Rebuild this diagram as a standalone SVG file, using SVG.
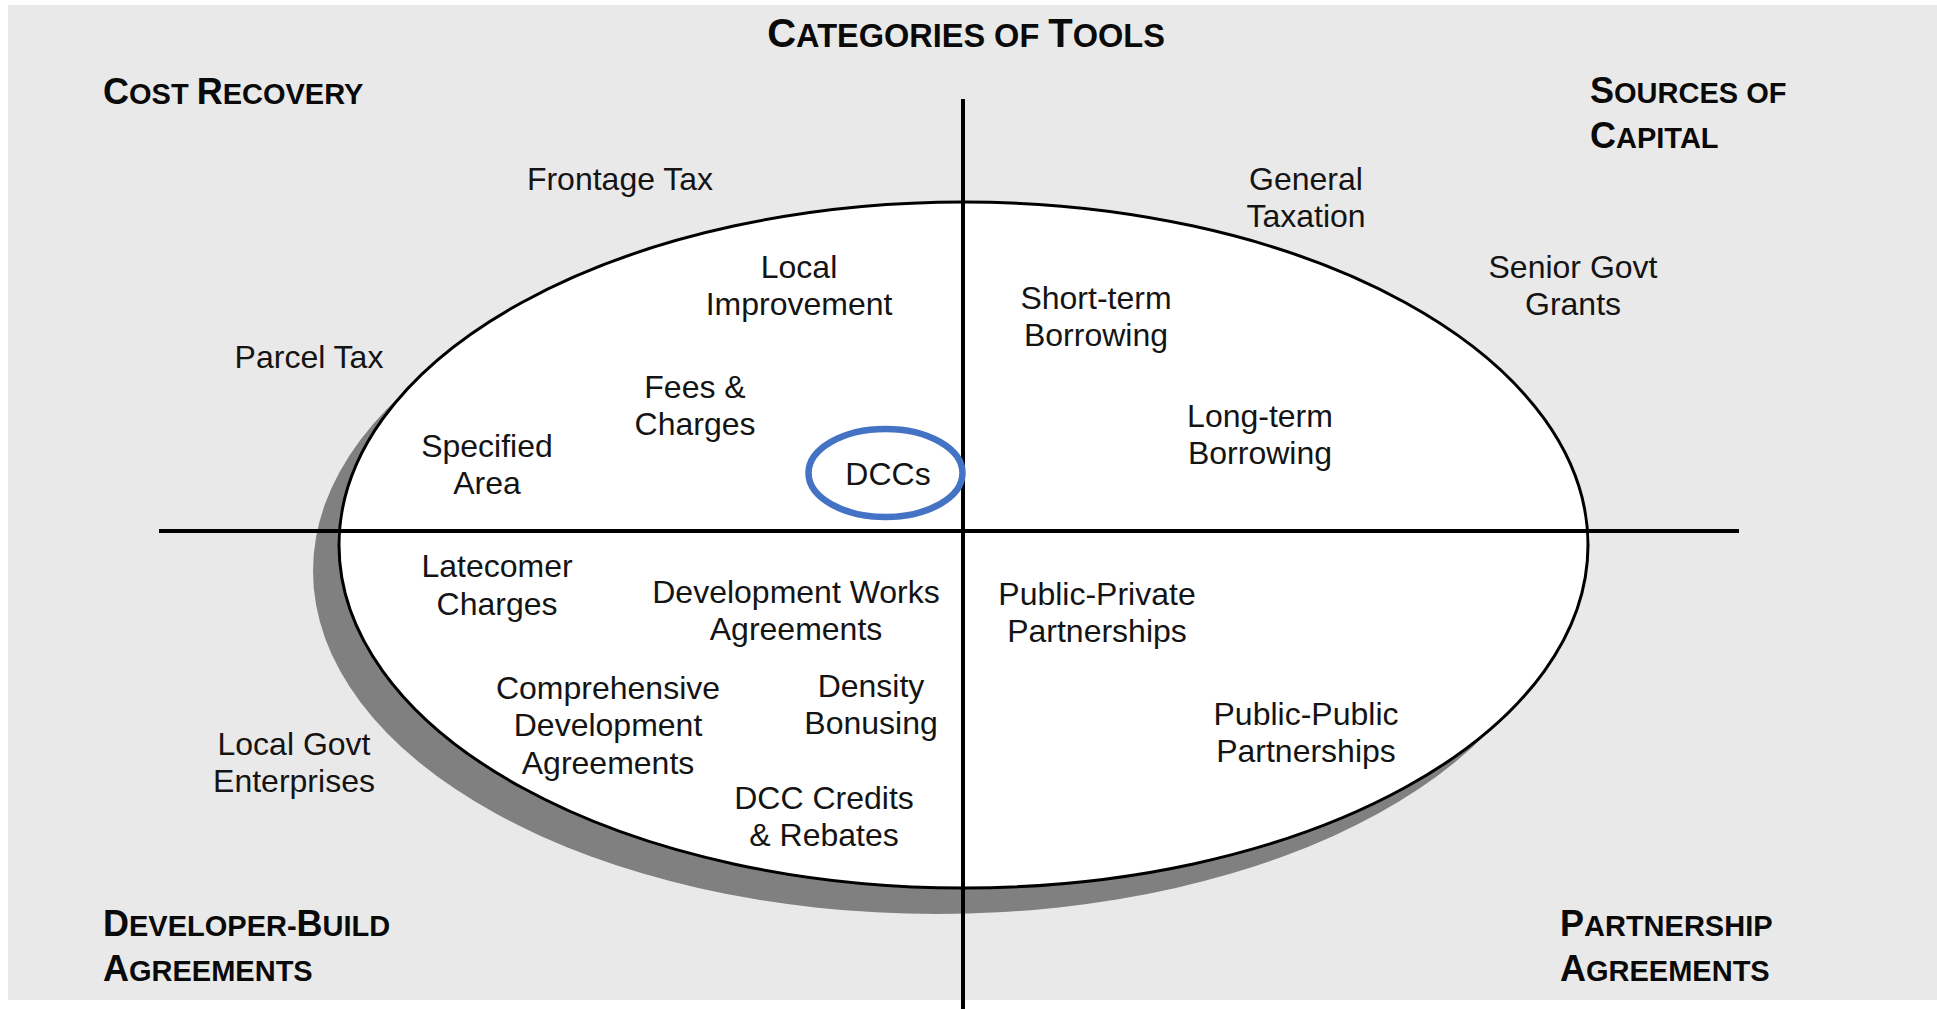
<svg xmlns="http://www.w3.org/2000/svg" width="1937" height="1009" viewBox="0 0 1937 1009">
<style>
.t{font-family:"Liberation Sans",Arial,sans-serif;font-size:32px;fill:#141414;text-anchor:middle}
.h{font-family:"Liberation Sans",Arial,sans-serif;font-weight:bold;fill:#0a0a0a}
.b{font-size:36px}
.s{font-size:29px}
.tb{font-size:40px}
.ts{font-size:32.5px}
.ln{stroke:#000;stroke-width:4;fill:none}
</style>
<rect x="0" y="0" width="1937" height="1009" fill="#ffffff"/>
<rect x="8" y="5" width="1929" height="995" fill="#e9e9e9"/>
<g id="ellipse">
<ellipse cx="937" cy="571" rx="624" ry="343" fill="#808080"/>
<ellipse cx="963.5" cy="545" rx="624.5" ry="343" fill="#ffffff" stroke="#000" stroke-width="3"/>
</g>
<g id="connectors">
<line class="ln" x1="159" y1="531" x2="1739" y2="531"/>
<line class="ln" x1="963" y1="99" x2="963" y2="1009"/>
</g>
<g id="title"><text class="h" x="966" y="47" text-anchor="middle"><tspan class="tb">C</tspan><tspan class="ts">ATEGORIES OF </tspan><tspan class="tb">T</tspan><tspan class="ts">OOLS</tspan></text></g>
<g id="cost-recovery"><text class="h" x="103" y="104"><tspan class="b">C</tspan><tspan class="s">OST </tspan><tspan class="b">R</tspan><tspan class="s">ECOVERY</tspan></text></g>
<g id="sources-of-capital"><text class="h" x="1590" y="103"><tspan class="b">S</tspan><tspan class="s">OURCES OF</tspan></text><text class="h" x="1590" y="148"><tspan class="b">C</tspan><tspan class="s">APITAL</tspan></text></g>
<g id="developer-build"><text class="h" x="103" y="936"><tspan class="b">D</tspan><tspan class="s">EVELOPER-</tspan><tspan class="b">B</tspan><tspan class="s">UILD</tspan></text><text class="h" x="103" y="981"><tspan class="b">A</tspan><tspan class="s">GREEMENTS</tspan></text></g>
<g id="partnership-agreements"><text class="h" x="1560" y="936"><tspan class="b">P</tspan><tspan class="s">ARTNERSHIP</tspan></text><text class="h" x="1560" y="981"><tspan class="b">A</tspan><tspan class="s">GREEMENTS</tspan></text></g>
<g id="frontage-tax"><text class="t" x="620" y="190">Frontage Tax</text></g>
<g id="general-taxation"><text class="t" x="1306" y="190">General</text><text class="t" x="1306" y="227">Taxation</text></g>
<g id="senior-govt-grants"><text class="t" x="1573" y="278">Senior Govt</text><text class="t" x="1573" y="315">Grants</text></g>
<g id="local-improvement"><text class="t" x="799" y="278">Local</text><text class="t" x="799" y="315">Improvement</text></g>
<g id="short-term-borrowing"><text class="t" x="1096" y="309">Short-term</text><text class="t" x="1096" y="346">Borrowing</text></g>
<g id="parcel-tax"><text class="t" x="309" y="368">Parcel Tax</text></g>
<g id="fees-charges"><text class="t" x="695" y="398">Fees &amp;</text><text class="t" x="695" y="435">Charges</text></g>
<g id="long-term-borrowing"><text class="t" x="1260" y="427">Long-term</text><text class="t" x="1260" y="464">Borrowing</text></g>
<g id="specified-area"><text class="t" x="487" y="457">Specified</text><text class="t" x="487" y="494">Area</text></g>
<g id="dccs"><ellipse cx="885.5" cy="473" rx="77" ry="44" fill="none" stroke="#4472c4" stroke-width="6.5"/><text class="t" x="888" y="485">DCCs</text></g>
<g id="latecomer-charges"><text class="t" x="497" y="577">Latecomer</text><text class="t" x="497" y="615">Charges</text></g>
<g id="development-works-agreements"><text class="t" x="796" y="603">Development Works</text><text class="t" x="796" y="640">Agreements</text></g>
<g id="public-private-partnerships"><text class="t" x="1097" y="605">Public-Private</text><text class="t" x="1097" y="642">Partnerships</text></g>
<g id="comprehensive-development-agreements"><text class="t" x="608" y="699">Comprehensive</text><text class="t" x="608" y="736">Development</text><text class="t" x="608" y="774">Agreements</text></g>
<g id="density-bonusing"><text class="t" x="871" y="697">Density</text><text class="t" x="871" y="734">Bonusing</text></g>
<g id="public-public-partnerships"><text class="t" x="1306" y="725">Public-Public</text><text class="t" x="1306" y="762">Partnerships</text></g>
<g id="local-govt-enterprises"><text class="t" x="294" y="755">Local Govt</text><text class="t" x="294" y="792">Enterprises</text></g>
<g id="dcc-credits-rebates"><text class="t" x="824" y="809">DCC Credits</text><text class="t" x="824" y="846">&amp; Rebates</text></g>
</svg>
